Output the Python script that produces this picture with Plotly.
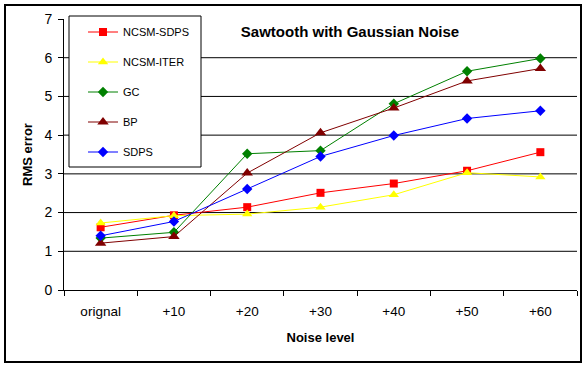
import plotly.graph_objects as go

categories = ["orignal", "+10", "+20", "+30", "+40", "+50", "+60"]
ncsm_sdps = [1.62, 1.93, 2.14, 2.51, 2.75, 3.08, 3.56]
ncsm_iter = [1.73, 1.92, 1.96, 2.14, 2.46, 3.03, 2.92]
gc = [1.34, 1.49, 3.52, 3.60, 4.81, 5.65, 5.98]
bp = [1.21, 1.38, 3.02, 4.06, 4.70, 5.40, 5.72]
sdps = [1.40, 1.77, 2.61, 3.45, 3.99, 4.43, 4.63]
y_ticks = [0, 1, 2, 3, 4, 5, 6, 7]

FONT = "Liberation Sans, Arial, sans-serif"

series = [
    ("NCSM-SDPS", ncsm_sdps, "#FF0000", "square", 8),
    ("NCSM-ITER", ncsm_iter, "#FFFF00", "triangle-up", 9),
    ("GC", gc, "#008000", "diamond", 8),
    ("BP", bp, "#800000", "triangle-up", 10),
    ("SDPS", sdps, "#0000FF", "diamond", 8),
]

fig = go.Figure()
for name, vals, col, sym, sz in series:
    fig.add_trace(go.Scatter(
        x=categories, y=vals, name=name, mode="lines+markers",
        legendgroup=name,
        line=dict(color=col, width=1),
        marker=dict(color=col, symbol=sym, size=sz, line=dict(width=0)),
    ))

# plot area px: x 64..577, y 19..290 (W=587, H=368)
L, R, T, B = 64, 577, 19, 290
W, H = 587, 368
pw, ph = R - L, B - T

def px_x(x):
    return (x - L) / pw

def px_y(y):
    return (B - y) / ph

shapes = []
for v in y_ticks[1:-1]:
    shapes.append(dict(type="line", xref="paper", yref="y", x0=0, x1=1, y0=v, y1=v,
                       line=dict(color="black", width=1), layer="below"))
# legend box
shapes.append(dict(type="rect", xref="paper", yref="paper",
                   x0=px_x(69), x1=px_x(201), y0=px_y(167), y1=px_y(16),
                   line=dict(color="black", width=1), fillcolor="white", layer="below"))
# outer border
shapes.append(dict(type="rect", xref="paper", yref="paper",
                   x0=px_x(5), x1=px_x(581), y0=px_y(362), y1=px_y(5),
                   line=dict(color="black", width=2), fillcolor="rgba(0,0,0,0)", layer="above"))

fig.update_layout(
    width=W, height=H,
    margin=dict(l=L, r=W - R, t=T, b=H - B),
    paper_bgcolor="white", plot_bgcolor="white",
    font=dict(family=FONT, color="black"),
    title=dict(text="<b>Sawtooth with Gaussian Noise</b>", font=dict(size=15, family=FONT),
               x=350 / W, xanchor="center", xref="container",
               y=1 - 32 / H, yanchor="middle", yref="container"),
    showlegend=True,
    legend=dict(x=px_x(83), y=px_y(17.5), xanchor="left", yanchor="top",
                bgcolor="rgba(0,0,0,0)", borderwidth=0, font=dict(size=11, family=FONT),
                traceorder="grouped", tracegroupgap=11, itemwidth=30),
    shapes=shapes,
)
fig.update_xaxes(
    type="category", tickson="boundaries", ticks="outside", ticklen=5, tickcolor="black",
    showline=True, linecolor="black", linewidth=1, showgrid=False,
    tickfont=dict(size=13.5, family=FONT), ticklabelstandoff=9,
    title=dict(text="<b>Noise level</b>", font=dict(size=13, family=FONT), standoff=14),
    range=[-0.5, 6.5],
)
fig.update_yaxes(
    range=[0, 7], tickvals=y_ticks, ticks="outside", ticklen=5, tickcolor="black",
    showline=True, linecolor="black", linewidth=1, showgrid=False, zeroline=False,
    tickfont=dict(size=14, family=FONT), ticklabelstandoff=3,
    title=dict(text="<b>RMS error</b>", font=dict(size=13, family=FONT), standoff=8),
)

fig.write_html("out.html", config={"displayModeBar": False},
               post_script="document.body.style.margin='0';")
